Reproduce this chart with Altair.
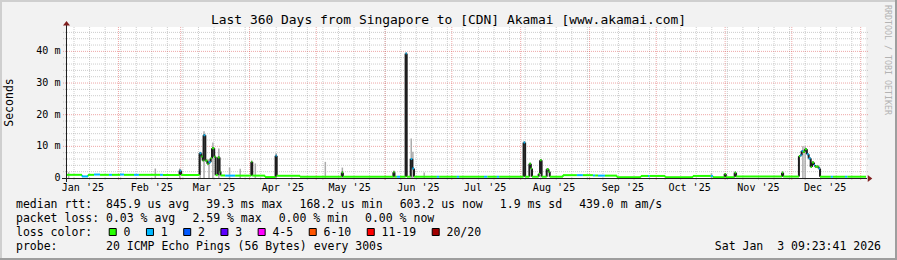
import altair as alt
import pandas as pd

# ---------------- data ----------------
# median rtt (ms) as steps: each entry starts a level that lasts until the next entry
med_dates = [
    "2025-01-08T09:23", "2025-01-15T14:00", "2025-01-18T07:00", "2025-01-21T00:00", "2025-01-23T17:00",
    "2025-01-27T17:00", "2025-01-29T02:00", "2025-02-01T17:00", "2025-02-03T12:00", "2025-02-08T00:00",
    "2025-02-10T05:00", "2025-02-19T17:00", "2025-02-21T00:00", "2025-02-28T12:00", "2025-03-01T05:00",
    "2025-03-09T12:00", "2025-03-10T07:00", "2025-03-10T22:00", "2025-03-11T07:00", "2025-03-12T02:00",
    "2025-03-13T00:00", "2025-03-13T14:00", "2025-03-14T12:00", "2025-03-15T02:00", "2025-03-16T02:00",
    "2025-03-16T17:00", "2025-03-17T17:00", "2025-03-18T12:00", "2025-03-18T22:00", "2025-03-21T00:00",
    "2025-03-25T12:00", "2025-04-01T19:00", "2025-04-02T05:00", "2025-04-07T22:00", "2025-04-12T17:00",
    "2025-04-13T05:00", "2025-04-23T17:00", "2025-05-12T12:00", "2025-05-13T00:00", "2025-06-04T17:00",
    "2025-06-05T05:00", "2025-06-06T07:00", "2025-06-07T17:00", "2025-06-10T05:00", "2025-06-10T17:00",
    "2025-06-12T12:00", "2025-06-13T05:00", "2025-06-14T00:00", "2025-06-24T07:00", "2025-06-25T07:00",
    "2025-07-03T07:00", "2025-07-04T07:00", "2025-07-15T12:00", "2025-07-17T00:00", "2025-07-21T07:00",
    "2025-07-22T07:00", "2025-08-02T07:00", "2025-08-03T00:00", "2025-08-04T22:00", "2025-08-05T14:00",
    "2025-08-06T02:00", "2025-08-09T02:00", "2025-08-09T17:00", "2025-08-10T10:00", "2025-08-12T17:00",
    "2025-08-13T12:00", "2025-08-14T02:00", "2025-08-20T00:00", "2025-08-26T07:00", "2025-08-29T00:00",
    "2025-09-02T12:00", "2025-09-03T12:00", "2025-09-04T19:00", "2025-09-07T22:00", "2025-09-13T07:00",
    "2025-09-24T02:00", "2025-09-27T07:00", "2025-09-28T00:00", "2025-10-05T00:00", "2025-10-17T12:00",
    "2025-10-25T14:00", "2025-10-26T12:00", "2025-10-31T19:00", "2025-11-01T07:00", "2025-11-05T07:00",
    "2025-11-05T22:00", "2025-11-26T14:00", "2025-11-27T02:00", "2025-12-04T05:00", "2025-12-04T19:00",
    "2025-12-05T10:00", "2025-12-06T00:00", "2025-12-06T22:00", "2025-12-07T19:00", "2025-12-08T14:00",
    "2025-12-09T12:00", "2025-12-10T02:00", "2025-12-11T00:00", "2025-12-11T10:00", "2025-12-13T02:00",
    "2025-12-13T17:00", "2025-12-18T14:00", "2025-12-19T12:00", "2025-12-24T22:00", "2025-12-26T00:00",
    "2026-01-03T09:23",
]
med_ms = [
    1.0, 0.5, 1.0, 1.1, 1.0,
    1.0, 1.0, 1.1, 1.0, 1.0,
    1.0, 1.0, 0.95, 2.3, 0.95,
    7.8, 6.8, 5.5, 13.5, 5.5,
    4.5, 5.0, 6.2, 9.4, 6.7,
    0.9, 6.5, 2.0, 0.8, 0.75,
    0.75, 5.1, 0.75, 0.3, 7.0,
    0.7, 0.4, 1.7, 0.4, 1.8,
    0.4, 0.4, 0.4, 39.3, 0.4,
    6.0, 3.0, 0.4, 0.4, 0.4,
    0.4, 0.4, 0.4, 0.4, 0.4,
    0.4, 11.2, 0.4, 4.5, 3.0,
    0.4, 1.3, 5.6, 0.4, 2.8,
    2.0, 0.4, 0.9, 0.9, 0.9,
    0.8, 0.8, 0.75, 0.75, 0.25,
    0.65, 0.65, 0.65, 0.25, 0.65,
    0.65, 0.25, 1.3, 0.25, 1.7,
    0.45, 1.7, 0.45, 6.9, 7.2,
    8.5, 8.3, 9.1, 7.5, 6.2,
    3.5, 4.9, 4.1, 3.6, 3.0,
    0.4, 0.4, 0.4, 0.4, 0.4,
    0.4,
]
med_loss = [
    0, 1, 0, 1, 0,
    1, 0, 1, 0, 1,
    0, 1, 0, 1, 0,
    1, 0, 0, 1, 0,
    0, 1, 0, 0, 0,
    0, 0, 0, 0, 1,
    0, 0, 0, 0, 1,
    0, 0, 0, 0, 0,
    0, 1, 0, 1, 0,
    1, 1, 0, 1, 0,
    1, 0, 1, 0, 1,
    0, 1, 0, 0, 0,
    0, 0, 0, 0, 0,
    0, 0, 0, 1, 0,
    1, 0, 1, 0, 0,
    0, 1, 0, 0, 0,
    1, 0, 0, 0, 0,
    0, 0, 0, 0, 1,
    1, 0, 0, 1, 1,
    0, 0, 1, 0, 1,
    0, 1, 0, 1, 0,
    0,
]

# grey smoke spikes (ms)
smoke_dates = [
    "2025-01-09T14:00", "2025-02-17T14:00", "2025-02-28T14:00", "2025-03-09T18:00", "2025-03-11T12:00",
    "2025-03-13T18:00", "2025-03-15T12:00", "2025-03-18T04:00", "2025-03-23T00:00", "2025-03-27T19:00",
    "2025-04-03T14:00", "2025-04-12T23:00", "2025-05-05T02:00", "2025-05-12T18:00", "2025-06-04T23:00",
    "2025-06-12T18:00", "2025-06-13T12:00", "2025-06-18T14:00", "2025-10-25T20:00", "2025-12-06T00:00",
    "2025-12-07T00:00",
]
smoke_ms = [
    1.8, 3.0, 3.0, 8.3, 14.8,
    6.0, 11.2, 9.3, 3.3, 2.9,
    4.6, 7.8, 5.1, 3.3, 2.4,
    12.5, 8.3, 1.7, 1.5, 10.0,
    10.0,
]

y_ticks = [0, 10, 20, 30, 40]
y_tick_labels = ["0", "10 m", "20 m", "30 m", "40 m"]
month_label_dates = ["2025-01-16", "2025-02-16", "2025-03-16", "2025-04-16", "2025-05-16", "2025-06-16",
                     "2025-07-16", "2025-08-16", "2025-09-16", "2025-10-16", "2025-11-16", "2025-12-16"]
month_labels = ["Jan '25", "Feb '25", "Mar '25", "Apr '25", "May '25", "Jun '25",
                "Jul '25", "Aug '25", "Sep '25", "Oct '25", "Nov '25", "Dec '25"]

title_text = "Last 360 Days from Singapore to [CDN] Akamai [www.akamai.com]"
line1 = ["median rtt:  845.9 us avg", "39.3 ms max", "168.2 us min", "603.2 us now", "1.9 ms sd", "439.0 m am/s"]
line2 = ["packet loss: 0.03 % avg", "2.59 % max", "0.00 % min", "0.00 % now"]
loss_labels = ["0", "1", "2", "3", "4-5", "6-10", "11-19", "20/20"]
loss_colors = ["#26ff00", "#00b8ff", "#0059ff", "#5e00ff", "#ff00ff", "#ff5500", "#ff0000", "#a10000"]
probe_text = "probe:       20 ICMP Echo Pings (56 Bytes) every 300s"
stamp_text = "Sat Jan  3 09:23:41 2026"
watermark = "RRDTOOL / TOBI OETIKER"

# ---------------- styling / layout ----------------
MONO = "DejaVu Sans Mono"
BG = "#f2f2f2"
SHADE_A = "#cfcfcf"
SHADE_B = "#9e9e9e"
AXIS_C = "#1f1f1f"
ARROW_C = "#801f1f"
DARK = "#1e1e1e"
SMOKE = "#ababab"
W, H = 800, 151
PL, PT = 66, 27
CH = 6.93      # advance of the 11.5px mono legend font
GAP = 17
DARK_MIN = 1.15

t0 = alt.DateTime(year=2025, month=1, date=8, hours=9, minutes=23, utc=True)
t1 = alt.DateTime(year=2026, month=1, date=3, hours=9, minutes=23, utc=True)
XS = alt.Scale(type="utc", domain=[t0, t1])
YS = alt.Scale(domain=[0, 47.7], nice=False, zero=True)

def iso(s):
    return s + ":00Z"

def nb(s):
    return s.replace(" ", "\u00a0")

# median segments
seg = pd.DataFrame({
    "start": [iso(d) for d in med_dates[:-1]],
    "end": [iso(d) for d in med_dates[1:]],
    "ms": med_ms[:-1],
    "loss": med_loss[:-1],
})
seg["col"] = [DARK if v > DARK_MIN else loss_colors[l] for v, l in zip(seg["ms"], seg["loss"])]
caps = seg[seg["ms"] > DARK_MIN].copy()
caps["capcol"] = [loss_colors[l] for l in caps["loss"]]

conn = pd.DataFrame({
    "d": [iso(d) for d in med_dates[1:-1]],
    "y0": med_ms[:-2],
    "y1": med_ms[1:-1],
})
conn["col"] = [
    DARK if max(a, b) > DARK_MIN else loss_colors[l]
    for a, b, l in zip(med_ms[:-2], med_ms[1:-1], med_loss[1:-1])
]
smoke = pd.DataFrame({"d": [iso(d) for d in smoke_dates], "ms": smoke_ms})

weeks = pd.DataFrame({"d": [d.strftime("%Y-%m-%dT00:00:00Z") for d in pd.date_range("2025-01-12", "2025-12-28", freq="7D")]})
months = pd.DataFrame({"d": [d.strftime("%Y-%m-%dT00:00:00Z") for d in pd.date_range("2025-02-01", "2026-01-01", freq="MS")]})
minor_y = pd.DataFrame({"v": [v for v in range(2, 48, 2) if v % 10]})
major_y = pd.DataFrame({"v": [10, 20, 30, 40]})
xlab = pd.DataFrame({"d": [d + "T00:00:00Z" for d in month_label_dates], "t": [nb(s) for s in month_labels]})
ylab = pd.DataFrame({"v": y_ticks, "t": [nb(s) for s in y_tick_labels]})

ONE = pd.DataFrame({"k": [0]})

def txt(s, x, y, size, align="left", baseline="alphabetic", angle=None, color="#000000"):
    kw = dict(text=nb(s), font=MONO, fontSize=size, align=align, baseline=baseline, color=color)
    if angle is not None:
        kw["angle"] = angle
    return alt.Chart(ONE).mark_text(**kw).encode(x=alt.value(x - PL), y=alt.value(y - PT))

def hrule(x1, x2, y, color, w):
    return alt.Chart(ONE).mark_rule(color=color, strokeWidth=w).encode(
        x=alt.value(x1 - PL), x2=alt.value(x2 - PL), y=alt.value(y - PT))

def vrule(x, y1, y2, color, w):
    return alt.Chart(ONE).mark_rule(color=color, strokeWidth=w).encode(
        x=alt.value(x - PL), y=alt.value(y1 - PT), y2=alt.value(y2 - PT))

layers = []

# grid
layers.append(alt.Chart(minor_y).mark_rule(color="#8f8f8f", opacity=0.45, strokeDash=[1, 1], strokeWidth=1).encode(
    y=alt.Y("v:Q", scale=YS, axis=None), x=alt.value(-3), x2=alt.value(W + 2)))
layers.append(alt.Chart(weeks).mark_rule(color="#8f8f8f", opacity=0.45, strokeDash=[1, 1], strokeWidth=1).encode(
    x=alt.X("d:T", scale=XS, axis=None), y=alt.value(0), y2=alt.value(H + 3)))
layers.append(alt.Chart(major_y).mark_rule(color="#de4f4f", opacity=0.5, strokeDash=[1, 1], strokeWidth=1).encode(
    y=alt.Y("v:Q", scale=YS, axis=None), x=alt.value(-3), x2=alt.value(W + 2)))
layers.append(alt.Chart(months).mark_rule(color="#de4f4f", opacity=0.5, strokeDash=[1, 1], strokeWidth=1).encode(
    x=alt.X("d:T", scale=XS, axis=None), y=alt.value(0), y2=alt.value(H + 3)))

# smoke
layers.append(alt.Chart(smoke).mark_rule(color=SMOKE, strokeWidth=1.5).encode(
    x=alt.X("d:T", scale=XS, axis=None), y=alt.Y("ms:Q", scale=YS, axis=None), y2=alt.datum(0)))

# vertical connectors of the median
layers.append(alt.Chart(conn).mark_rule(strokeWidth=2).encode(
    x=alt.X("d:T", scale=XS, axis=None),
    y=alt.Y("y0:Q", scale=YS, axis=None), y2="y1:Q",
    color=alt.Color("col:N", scale=None)))

# median levels
layers.append(alt.Chart(seg).mark_rule(strokeWidth=2).encode(
    x=alt.X("start:T", scale=XS, axis=None), x2="end:T",
    y=alt.Y("ms:Q", scale=YS, axis=None),
    color=alt.Color("col:N", scale=None)))

# loss-coloured caps on the raised medians
layers.append(alt.Chart(caps).mark_rule(strokeWidth=2).encode(
    x=alt.X("start:T", scale=XS, axis=None), x2="end:T",
    y=alt.Y("ms:Q", scale=YS, axis=None),
    color=alt.Color("capcol:N", scale=None),
    strokeOpacity=alt.value(0.9)))

# tick labels through the scales
layers.append(alt.Chart(xlab).mark_text(font=MONO, fontSize=10.06, color="#000000", align="center", baseline="alphabetic").encode(
    x=alt.X("d:T", scale=XS, axis=None), y=alt.value(191 - PT), text="t:N"))
layers.append(alt.Chart(ylab).mark_text(font=MONO, fontSize=10.06, color="#000000", align="right", baseline="middle").encode(
    y=alt.Y("v:Q", scale=YS, axis=None), x=alt.value(60.5 - PL), text="t:N"))

# axis lines and arrows
layers.append(hrule(62, 867, 178.5, AXIS_C, 1))
layers.append(vrule(66.5, 182, 24, AXIS_C, 1))
layers.append(alt.Chart(ONE).mark_point(shape="M-1,0.65L0,-0.65L1,0.65Z", filled=True, size=49, color=ARROW_C, opacity=1).encode(
    x=alt.value(66.5 - PL), y=alt.value(23.3 - PT)))
layers.append(alt.Chart(ONE).mark_point(shape="M-0.65,-1L0.65,0L-0.65,1Z", filled=True, size=49, color=ARROW_C, opacity=1).encode(
    x=alt.value(870 - PL), y=alt.value(178.5 - PT)))

# frame shading
layers.append(hrule(0, 897, 1, SHADE_A, 2))
layers.append(vrule(1, 0, 260, SHADE_A, 2))
layers.append(hrule(0, 897, 259, SHADE_B, 2))
layers.append(vrule(896, 0, 260, SHADE_B, 2))

# texts
layers.append(txt(title_text, 448.5, 24, 12.94, align="center"))
layers.append(txt("Seconds", 10, 102.5, 11.5, align="center", baseline="middle", angle=270))
layers.append(txt(watermark, 887, 60, 8.3, align="center", baseline="middle", angle=90, color="#b3b3b3"))

x = 16.0
for s in line1:
    layers.append(txt(s, x, 208, 11.5))
    x += len(s) * CH + GAP
x = 16.0
for s in line2:
    layers.append(txt(s, x, 222, 11.5))
    x += len(s) * CH + GAP

layers.append(txt("loss color:", 16, 236, 11.5))
bx = 16 + len("loss color:") * CH + GAP
for lab, c in zip(loss_labels, loss_colors):
    layers.append(alt.Chart(ONE).mark_rect(fill=c, stroke="#000000", strokeWidth=1).encode(
        x=alt.value(bx - PL), x2=alt.value(bx + 7 - PL), y=alt.value(228.5 - PT), y2=alt.value(235.5 - PT)))
    layers.append(txt(lab, bx + 14.3, 236, 11.5))
    bx = bx + 14.3 + len(lab) * CH + 16

layers.append(txt(probe_text, 16, 250, 11.5))
layers.append(txt(stamp_text, 881, 250, 11.5, align="right"))

chart = alt.layer(*layers).properties(
    width=W, height=H,
    padding={"left": PL, "top": PT, "right": 897 - PL - W, "bottom": 260 - PT - H},
    autosize=alt.AutoSizeParams(type="none"),
    background=BG,
).configure_view(fill="white", stroke=None)

chart.save("out.html", embed_options={"renderer": "svg", "actions": False})
